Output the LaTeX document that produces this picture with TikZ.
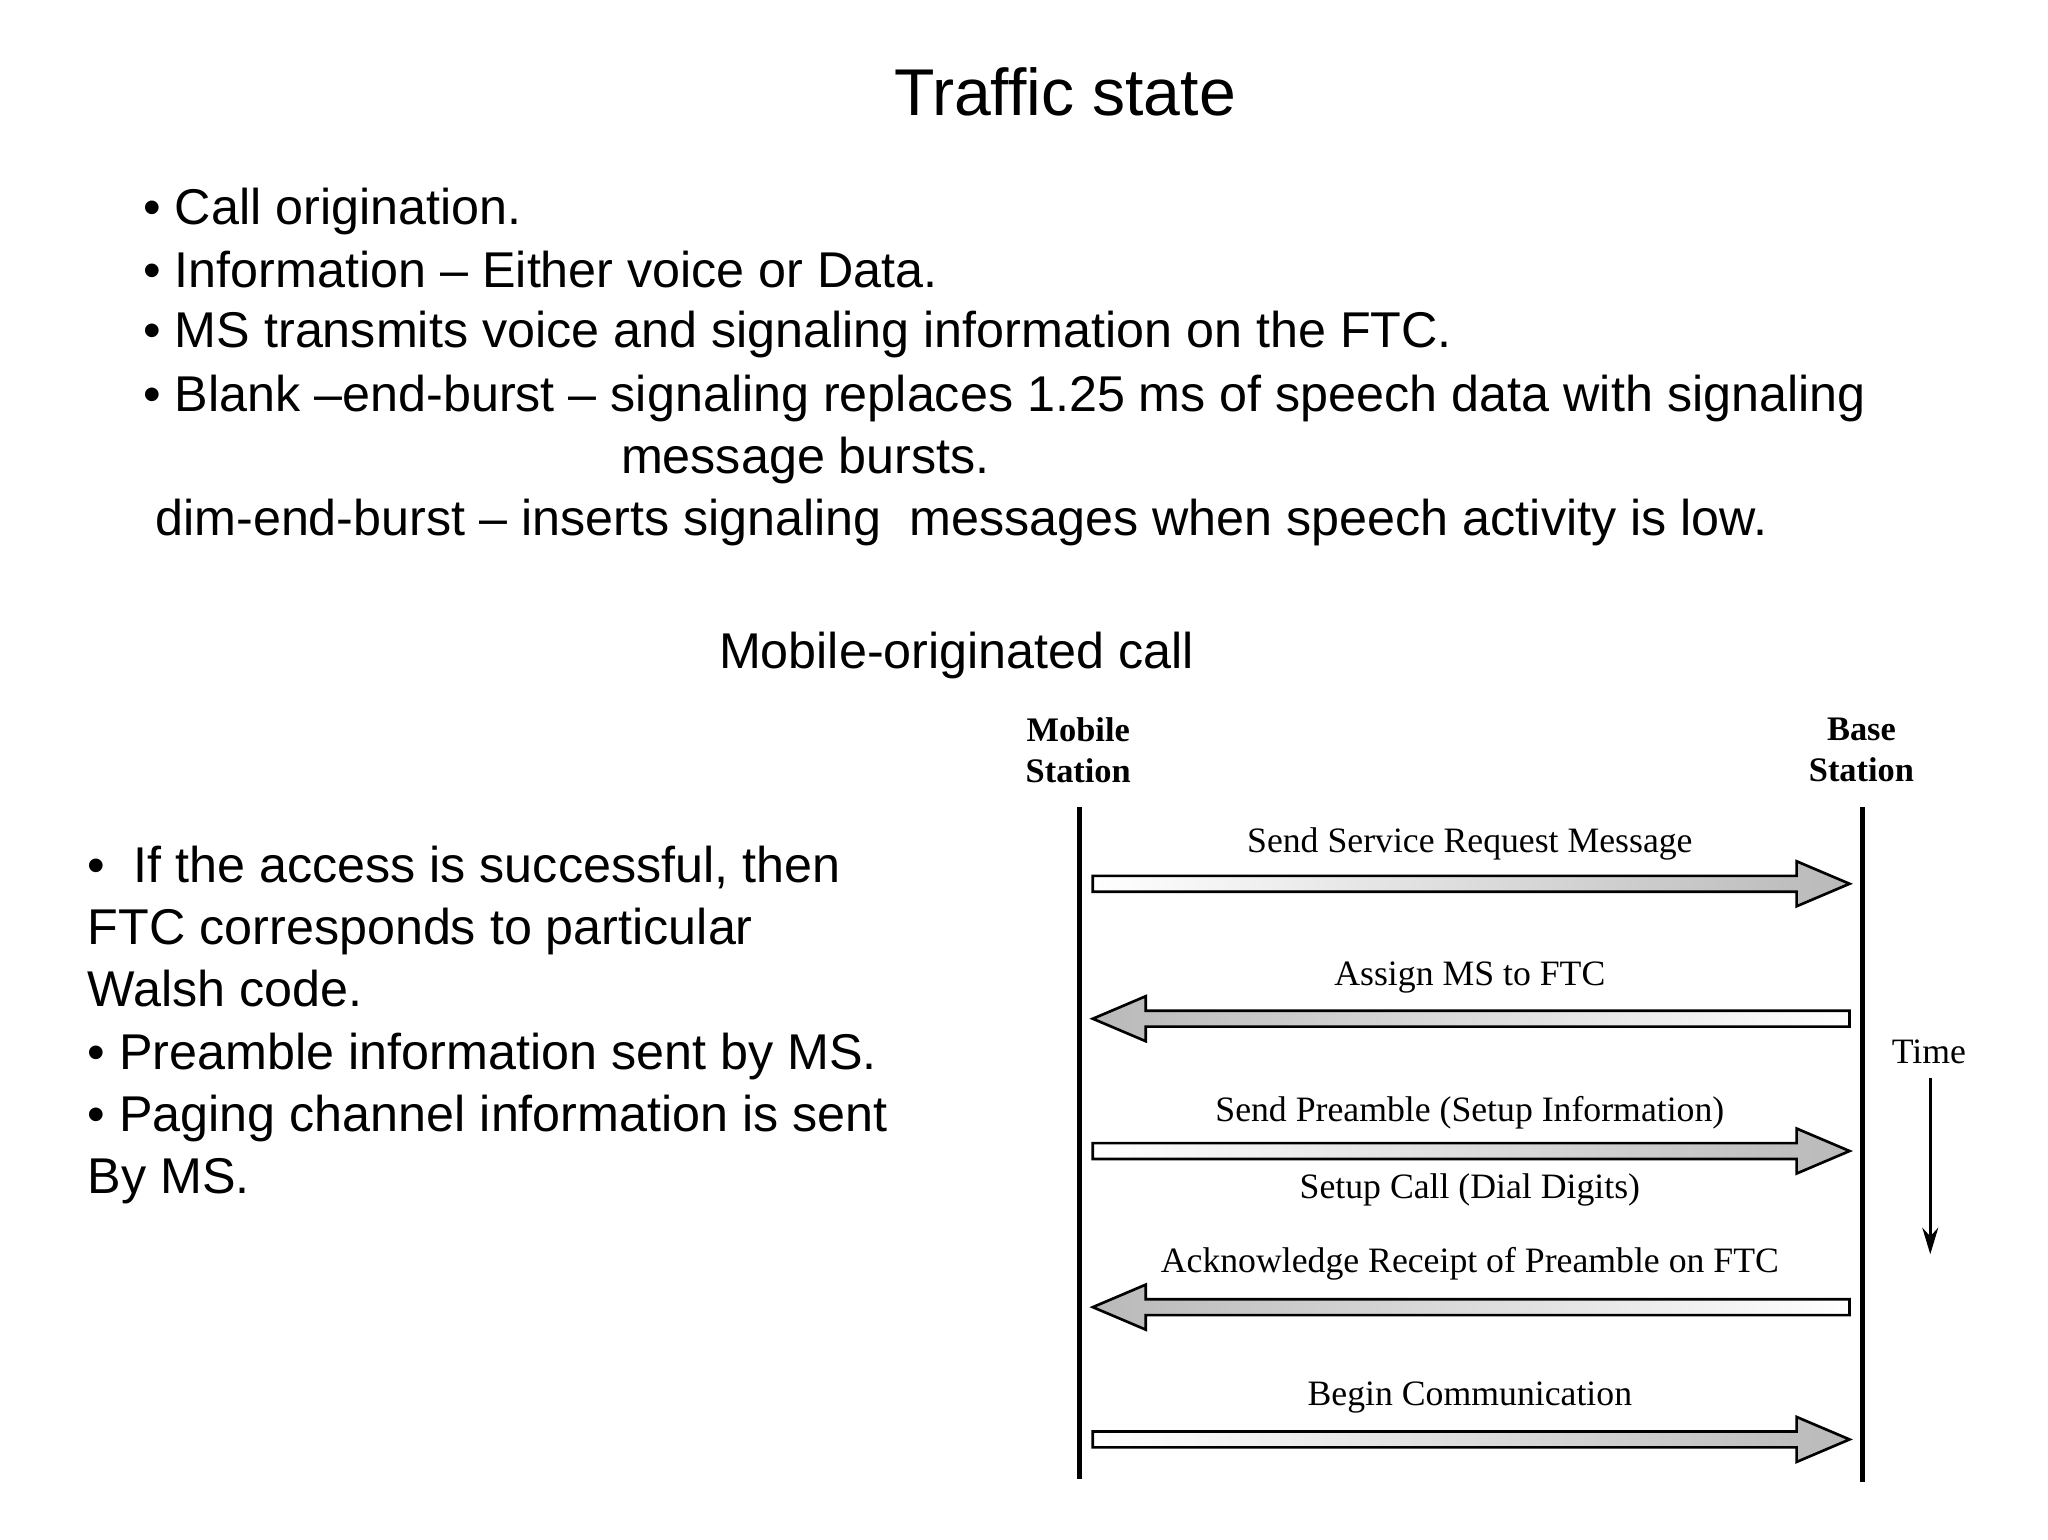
\documentclass[tikz,border=0pt]{standalone}
\usepackage{fontspec}
\usetikzlibrary{arrows.meta}
\setmainfont{Liberation Sans}
\newfontfamily\serifb{Liberation Serif}
\begin{document}
\begin{tikzpicture}[x=0.5pt,y=-0.5pt,
  txt/.style={anchor=base west,inner sep=0,font=\fontsize{19}{22}\selectfont},
  lbl/.style={anchor=base,inner sep=0,font=\serifb\fontsize{13.5}{16}\selectfont},
  hdr/.style={align=center,inner sep=0,font=\serifb\bfseries\fontsize{13}{15.5}\selectfont},
  arr/.style={draw=black,line width=1pt,left color=white,right color=gray!55}]
\useasboundingbox (0,0) rectangle (1548,1164);
\node[anchor=base,inner sep=0,font=\fontsize{25}{30}\selectfont] (title) at (805,87) {Traffic state};
\node[txt] (b1) at (108,170) {\textbullet\ Call origination.};
\node[txt] (b2) at (108,217) {\textbullet\ Information -- Either voice or Data.};
\node[txt] (b3) at (108,263) {\textbullet\ MS transmits voice and signaling information on the FTC.};
\node[txt] (b4) at (108,311) {\textbullet\ Blank --end-burst -- signaling replaces 1.25 ms of speech data with signaling};
\node[txt] (b5) at (469,358) {message bursts.};
\node[txt] (b6) at (117,405) {dim-end-burst -- inserts signaling\ \ messages when speech activity is low.};
\node[anchor=base,inner sep=0,font=\fontsize{19}{22}\selectfont] (sub) at (723,505) {Mobile-originated call};
\node[txt] (l1) at (66,667) {\textbullet\ \ If the access is successful, then};
\node[txt] (l2) at (66,714) {FTC corresponds to particular};
\node[txt] (l3) at (66,761) {Walsh code.};
\node[txt] (l4) at (66,808) {\textbullet\ Preamble information sent by MS.};
\node[txt] (l5) at (66,855) {\textbullet\ Paging channel information is sent};
\node[txt] (l6) at (66,902) {By MS.};
\node[hdr] (ms) at (815,567) {Mobile\\Station};
\node[hdr] (bs) at (1407,567) {Base\\Station};
\coordinate (mst) at (816,610); \coordinate (msb) at (816,1118);
\coordinate (bst) at (1408,610); \coordinate (bsb) at (1408,1120);
\draw[line width=2pt] (mst) -- (msb);
\draw[line width=2pt] (bst) -- (bsb);
\foreach \y in {668,870,1088}{
 \path[arr] (826,\y-6) -- (1358,\y-6) -- (1358,\y-17) -- (1398,\y) -- (1358,\y+17) -- (1358,\y+6) -- (826,\y+6) -- cycle;}
\foreach \y in {770,988}{
 \path[arr,left color=gray!55,right color=white] (1398,\y-6) -- (866,\y-6) -- (866,\y-17) -- (826,\y) -- (866,\y+17) -- (866,\y+6) -- (1398,\y+6) -- cycle;}
\node[lbl] (m1) at (1111,644) {Send Service Request Message};
\node[lbl] (m2) at (1111,745) {Assign MS to FTC};
\node[lbl] (m3) at (1111,848) {Send Preamble (Setup Information)};
\node[lbl] (m3b) at (1111,906) {Setup Call (Dial Digits)};
\node[lbl] (m4) at (1111,962) {Acknowledge Receipt of Preamble on FTC};
\node[lbl] (m5) at (1111,1062) {Begin Communication};
\node[lbl] (time) at (1458,804) {Time};
\coordinate (tt) at (1459,815); \coordinate (tb) at (1459,948);
\draw[line width=1.2pt,-{Stealth[length=10pt,width=6pt]}] (tt) -- (tb);
\end{tikzpicture}
\end{document}
